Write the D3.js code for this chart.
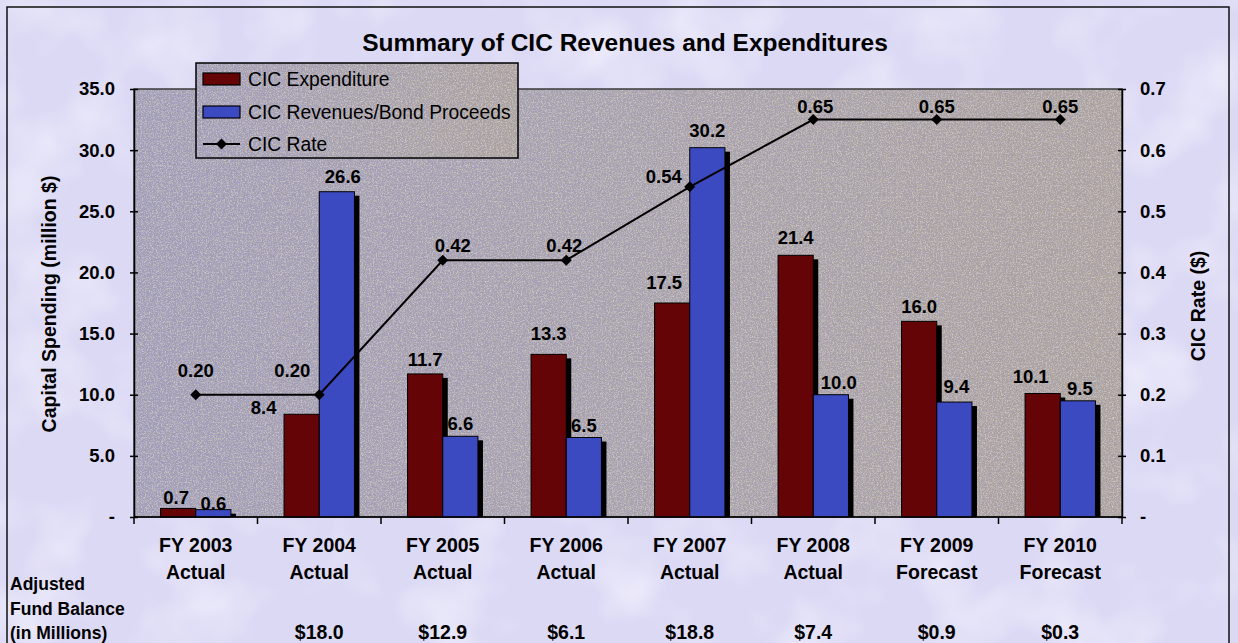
<!DOCTYPE html>
<html><head><meta charset="utf-8">
<script src="https://cdn.jsdelivr.net/npm/d3@7"></script>
<style>
body{margin:0;background:#dedaf5;}
svg{display:block;font-family:"Liberation Sans",Arial,Helvetica,sans-serif;}
</style>
</head><body>
<svg id="chart" width="1238" height="643"></svg>
<script>
// ---------- data ----------
const categories   = ["FY 2003","FY 2004","FY 2005","FY 2006","FY 2007","FY 2008","FY 2009","FY 2010"];
const periodTypes  = ["Actual","Actual","Actual","Actual","Actual","Actual","Forecast","Forecast"];
const expenditure  = [0.7, 8.4, 11.7, 13.3, 17.5, 21.4, 16.0, 10.1];
const revenues     = [0.6, 26.6, 6.6, 6.5, 30.2, 10.0, 9.4, 9.5];
const cicRate      = [0.20, 0.20, 0.42, 0.42, 0.54, 0.65, 0.65, 0.65];
const fundBalance  = ["", "$18.0", "$12.9", "$6.1", "$18.8", "$7.4", "$0.9", "$0.3"];
const leftTicks    = [0, 5, 10, 15, 20, 25, 30, 35];
const rightTicks   = [0, 0.1, 0.2, 0.3, 0.4, 0.5, 0.6, 0.7];
const seriesNames  = ["CIC Expenditure", "CIC Revenues/Bond Proceeds", "CIC Rate"];
const fundTitle    = ["Adjusted", "Fund Balance", "(in Millions)"];
const chartTitle   = "Summary of CIC Revenues and Expenditures";

// ---------- layout / style ----------
const W = 1238, H = 643;
const plot = {l:134, r:1122, t:89, b:517};
const colExp = "#640406", colRev = "#3c4ac2";
// label nudges (manual placements in the original)
const rateNudge = [[0,-24],[-27,-24],[10,-14],[-2,-14],[-26,-10],[2,-13],[0,-13],[0,-13]];
const expNudge  = [[-2,-10],[-38,-6],[0,-14],[0,-20],[-8,-20],[0,-17],[0,-14],[-12,-16]];
const revNudge  = [[0,-6],[6,-15],[0,-12],[0,-12],[0,-17],[8,-12],[2,-15],[2,-12]];

const svg = d3.select("#chart");
const defs = svg.append("defs");
const grad = defs.append("linearGradient").attr("id","pbg").attr("x1",0).attr("x2",1).attr("y1",0).attr("y2",0);
grad.append("stop").attr("offset","0%").attr("stop-color","#9f9cb8");
grad.append("stop").attr("offset","55%").attr("stop-color","#a6a0ad");
grad.append("stop").attr("offset","100%").attr("stop-color","#a8a0a0");
const f = defs.append("filter").attr("id","grain").attr("x",0).attr("y",0).attr("width","100%").attr("height","100%");
f.append("feTurbulence").attr("type","fractalNoise").attr("baseFrequency",0.75).attr("numOctaves",2).attr("seed",4).attr("result","n");
f.append("feColorMatrix").attr("in","n").attr("type","matrix")
 .attr("values","0 0 0 0 0.70  0 0 0 0 0.64  0 0 0 0 0.42  3.2 0 0 0 -1.55");
const f3 = defs.append("filter").attr("id","grain2").attr("x",0).attr("y",0).attr("width","100%").attr("height","100%");
f3.append("feTurbulence").attr("type","fractalNoise").attr("baseFrequency",0.8).attr("numOctaves",2).attr("seed",11).attr("result","n");
f3.append("feColorMatrix").attr("in","n").attr("type","matrix")
 .attr("values","0 0 0 0 0.68  0 0 0 0 0.62  0 0 0 0 0.85  3.2 0 0 0 -1.6");
const f2 = defs.append("filter").attr("id","blotch").attr("x",0).attr("y",0).attr("width","100%").attr("height","100%");
f2.append("feTurbulence").attr("type","fractalNoise").attr("baseFrequency",0.012).attr("numOctaves",3).attr("seed",7).attr("result","n");
f2.append("feColorMatrix").attr("in","n").attr("type","matrix")
 .attr("values","0 0 0 0 1  0 0 0 0 1  0 0 0 0 1  1.6 0 0 0 -0.75");

// page background
svg.append("rect").attr("width",W).attr("height",H).attr("fill","#dcd9f5");
svg.append("rect").attr("width",W).attr("height",H).attr("filter","url(#blotch)").attr("opacity",0.7);
// outer frame
svg.append("path").attr("d",`M7,${H} V7 H1229 V${H}`).attr("fill","none").attr("stroke","#111").attr("stroke-width",1.5);

// scales
const x = d3.scaleBand().domain(categories).range([plot.l, plot.r]);
const y = d3.scaleLinear().domain([0,35]).range([plot.b, plot.t]);
const y2 = d3.scaleLinear().domain([0,0.7]).range([plot.b, plot.t]);
const bw = x.bandwidth()*0.285;

function texturedRect(g, x0, y0, w, h, stroke){
  g.append("rect").attr("x",x0).attr("y",y0).attr("width",w).attr("height",h).attr("fill","url(#pbg)");
  g.append("rect").attr("x",x0).attr("y",y0).attr("width",w).attr("height",h).attr("filter","url(#grain)").attr("opacity",0.8);
  g.append("rect").attr("x",x0).attr("y",y0).attr("width",w).attr("height",h).attr("filter","url(#grain2)").attr("opacity",0.6);
  g.append("rect").attr("x",x0).attr("y",y0).attr("width",w).attr("height",h)
    .attr("fill","none").attr("stroke",stroke).attr("stroke-width",1.5);
}
// plot area
texturedRect(svg.append("g"), plot.l, plot.t, plot.r-plot.l, plot.b-plot.t, "#3a3a3a");

// title
svg.append("text").attr("x",625).attr("y",51).attr("text-anchor","middle")
  .attr("font-size",24.5).attr("font-weight","bold").attr("fill","#000").text(chartTitle);

// bars
function drawBars(vals, color, offset, cls){
  const g = svg.append("g").attr("class",cls);
  const data = categories.map((c,i)=>({c, v:vals[i], i}));
  g.selectAll("rect.sh").data(data).join("rect").attr("class","sh")
    .attr("x",d=>x(d.c)+x.bandwidth()/2+offset+5).attr("y",d=>y(d.v)+4)
    .attr("width",bw).attr("height",d=>y(0)-y(d.v)-4).attr("fill","#000");
  g.selectAll("rect.b").data(data).join("rect").attr("class","b")
    .attr("x",d=>x(d.c)+x.bandwidth()/2+offset).attr("y",d=>y(d.v))
    .attr("width",bw).attr("height",d=>y(0)-y(d.v)).attr("fill",color)
    .attr("stroke","#000").attr("stroke-width",1);
  return data;
}
const expData = drawBars(expenditure, colExp, -bw, "exp");
const revData = drawBars(revenues, colRev, 0, "rev");

// axes
const yAxis = d3.axisLeft(y).tickValues(leftTicks).tickFormat(d=>d===0?"-":d.toFixed(1))
  .tickSizeInner(4).tickSizeOuter(0).tickPadding(15);
const gy = svg.append("g").attr("transform",`translate(${plot.l},0)`).call(yAxis);
gy.selectAll(".tick line").attr("x1",-4).attr("x2",4);
const y2Axis = d3.axisRight(y2).tickValues(rightTicks).tickFormat(d=>d===0?"-":d.toFixed(1))
  .tickSizeInner(4).tickSizeOuter(0).tickPadding(14);
const gy2 = svg.append("g").attr("transform",`translate(${plot.r},0)`).call(y2Axis);
gy2.selectAll(".tick line").attr("x1",-4).attr("x2",4);
[gy,gy2].forEach(g=>{
  g.select(".domain").attr("stroke","#000").attr("stroke-width",1.5);
  g.selectAll(".tick line").attr("stroke","#000").attr("stroke-width",1.5);
  g.selectAll(".tick text").attr("font-size",18.5).attr("font-weight","bold").attr("fill","#000")
    .attr("font-family",'"Liberation Sans",Arial,sans-serif');
});
// x axis
const gx = svg.append("g");
gx.append("line").attr("x1",plot.l).attr("x2",plot.r).attr("y1",plot.b).attr("y2",plot.b)
  .attr("stroke","#000").attr("stroke-width",1.5);
const bounds = categories.map(c=>x(c)).concat([plot.r]);
gx.selectAll("line.t").data(bounds).join("line").attr("class","t")
  .attr("x1",d=>d).attr("x2",d=>d).attr("y1",plot.b).attr("y2",plot.b+7)
  .attr("stroke","#000").attr("stroke-width",1.5);
const cl = gx.selectAll("text.cat").data(categories).join("text").attr("class","cat")
  .attr("x",d=>x(d)+x.bandwidth()/2).attr("text-anchor","middle")
  .attr("font-size",19.5).attr("font-weight","bold").attr("fill","#000");
cl.append("tspan").attr("x",d=>x(d)+x.bandwidth()/2).attr("y",552).text(d=>d);
cl.append("tspan").attr("x",d=>x(d)+x.bandwidth()/2).attr("y",579).text((d,i)=>periodTypes[i]);

// axis titles
svg.append("text").attr("transform","translate(56,304) rotate(-90)").attr("text-anchor","middle")
  .attr("font-size",19.5).attr("font-weight","bold").text("Capital Spending (million $)");
svg.append("text").attr("transform","translate(1205,306) rotate(-90)").attr("text-anchor","middle")
  .attr("font-size",19.5).attr("font-weight","bold").text("CIC Rate ($)");

// line
const rateData = categories.map((c,i)=>({c, v:cicRate[i], i}));
const cx = d=>x(d.c)+x.bandwidth()/2;
svg.append("path").datum(rateData)
  .attr("d", d3.line().x(cx).y(d=>y2(d.v)))
  .attr("fill","none").attr("stroke","#000").attr("stroke-width",2);
const diamond = (px,py,s)=>`M${px},${py-s}L${px+s},${py}L${px},${py+s}L${px-s},${py}Z`;
svg.selectAll("path.mk").data(rateData).join("path").attr("class","mk")
  .attr("d",d=>diamond(cx(d),y2(d.v),5.5)).attr("fill","#000");

// data labels
const lab = svg.append("g").attr("font-size",18.5).attr("font-weight","bold").attr("fill","#000").attr("text-anchor","middle");
lab.selectAll("text.r").data(rateData).join("text").attr("class","r")
  .attr("x",d=>cx(d)+rateNudge[d.i][0]).attr("y",d=>y2(d.v)+rateNudge[d.i][1]+6)
  .text(d=>d.v.toFixed(2));
lab.selectAll("text.e").data(expData).join("text").attr("class","e")
  .attr("x",d=>x(d.c)+x.bandwidth()/2-bw/2+expNudge[d.i][0]).attr("y",d=>y(d.v)+expNudge[d.i][1]+6)
  .text(d=>d.v.toFixed(1));
lab.selectAll("text.v").data(revData).join("text").attr("class","v")
  .attr("x",d=>x(d.c)+x.bandwidth()/2+bw/2+revNudge[d.i][0]).attr("y",d=>y(d.v)+revNudge[d.i][1]+6)
  .text(d=>d.v.toFixed(1));

// fund balance row
const fb = svg.append("g").attr("font-weight","bold").attr("fill","#000");
fb.selectAll("text.ft").data(fundTitle).join("text").attr("class","ft")
  .attr("x",10).attr("y",(d,i)=>590+i*24.5).attr("font-size",17.5).text(d=>d);
fb.selectAll("text.fv").data(categories).join("text").attr("class","fv")
  .attr("x",d=>x(d)+x.bandwidth()/2).attr("y",639).attr("text-anchor","middle")
  .attr("font-size",19.5).text((d,i)=>fundBalance[i]);

// legend
const lg = svg.append("g");
texturedRect(lg, 196, 63, 322, 95, "#000");
const rows = [79,112,144];
[colExp,colRev].forEach((c,i)=>{
  lg.append("rect").attr("x",203).attr("y",rows[i]-6).attr("width",37).attr("height",12)
    .attr("fill",c).attr("stroke","#000").attr("stroke-width",1.2);
});
lg.append("line").attr("x1",203).attr("x2",240).attr("y1",rows[2]).attr("y2",rows[2]).attr("stroke","#000").attr("stroke-width",2);
lg.append("path").attr("d",diamond(221.5,rows[2],5.5)).attr("fill","#000");
lg.selectAll("text.lt").data(seriesNames).join("text").attr("class","lt")
  .attr("x",248).attr("y",(d,i)=>rows[i]+7).attr("font-size",19.3).attr("fill","#000").text(d=>d);
</script>
</body></html>
